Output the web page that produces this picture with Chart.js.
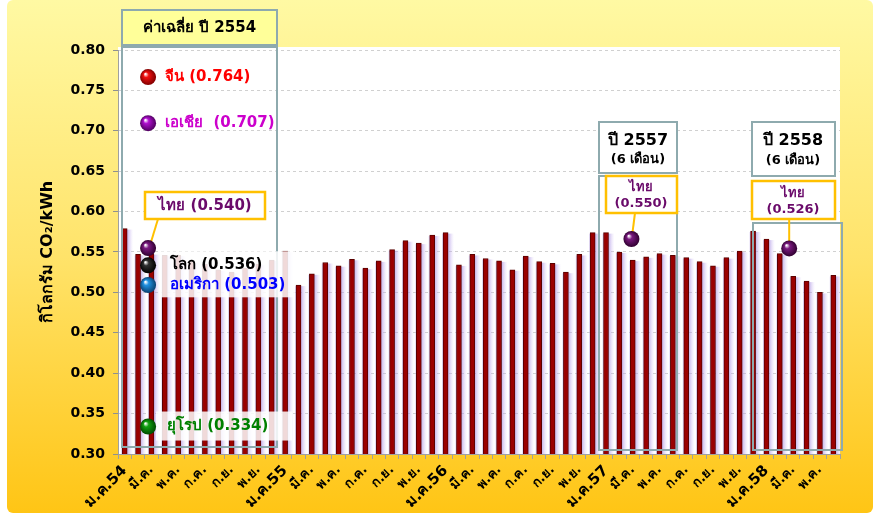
<!DOCTYPE html>
<html>
<head>
<meta charset="utf-8">
<script src="https://cdn.jsdelivr.net/npm/chart.js@4.4.0/dist/chart.umd.min.js"></script>
<style>
html,body{margin:0;padding:0;background:#fff;}
#wrap{width:880px;height:524px;}
</style>
</head>
<body>
<div id="wrap"><canvas id="grafico" width="880" height="524"></canvas></div>
<script>
var meses = ['ม.ค.','ก.พ.','มี.ค.','เม.ย.','พ.ค.','มิ.ย.','ก.ค.','ส.ค.','ก.ย.','ต.ค.','พ.ย.','ธ.ค.'];
var anios = ['54','55','56','57','58'];
var mesesPorAnio = [12,12,12,12,6];

// kg CO2/kWh por mes, ene 2554 - jun 2558
var valores = [
  0.579,0.547,0.548,0.546,0.546,0.538,0.535,0.528,0.525,0.530,0.535,0.540,
  0.551,0.509,0.523,0.537,0.533,0.541,0.530,0.539,0.553,0.564,0.561,0.571,
  0.574,0.534,0.547,0.542,0.539,0.528,0.545,0.538,0.536,0.525,0.547,0.574,
  0.574,0.550,0.540,0.544,0.548,0.546,0.543,0.538,0.533,0.543,0.551,0.576,
  0.566,0.548,0.520,0.514,0.500,0.521
];
var ticksY = [0.30,0.35,0.40,0.45,0.50,0.55,0.60,0.65,0.70,0.75,0.80];

// promedios 2554
var promNombres = ['จีน','เอเชีย ','ไทย','โลก','อเมริกา','ยุโรป'];
var promValores = [0.764,0.707,0.540,0.536,0.503,0.334];

// tailandia 2557 / 2558 (6 meses)
var anioNombres = ['ปี 2557','ปี 2558'];
var thaiValores = [0.550,0.526];

var etiquetas = [];
for (var a = 0; a < anios.length; a++) {
  for (var m = 0; m < mesesPorAnio[a]; m++) {
    etiquetas.push(m == 0 ? meses[m] + anios[a] : meses[m]);
  }
}

var FUENTE = "Tahoma, 'DejaVu Sans', 'Noto Sans', sans-serif";
var BORDE = '#8eaaae';

function esfera(ctx, x, y, r, c1, c2) {
  var g = ctx.createRadialGradient(x - r*0.35, y - r*0.4, r*0.05, x, y, r);
  g.addColorStop(0, 'rgba(255,255,255,0.95)');
  g.addColorStop(0.3, c1);
  g.addColorStop(1, c2);
  ctx.beginPath();
  ctx.arc(x, y, r, 0, Math.PI*2);
  ctx.fillStyle = g;
  ctx.fill();
}

function caja(ctx, x, y, w, h, relleno, borde, ancho) {
  if (relleno) { ctx.fillStyle = relleno; ctx.fillRect(x, y, w, h); }
  if (borde) { ctx.strokeStyle = borde; ctx.lineWidth = ancho || 2; ctx.strokeRect(x, y, w, h); }
}

function texto(ctx, s, x, y, color, size, align) {
  ctx.fillStyle = color;
  ctx.font = 'bold ' + size + 'px ' + FUENTE;
  ctx.textAlign = align || 'center';
  ctx.textBaseline = 'middle';
  ctx.fillText(s, x, y);
}

function linea(ctx, x1, y1, x2, y2) {
  ctx.strokeStyle = '#ffc000';
  ctx.lineWidth = 2;
  ctx.beginPath(); ctx.moveTo(x1, y1); ctx.lineTo(x2, y2); ctx.stroke();
}

var anotaciones = {
  id: 'anotaciones',
  beforeDraw: function(chart) {
    var ctx = chart.ctx, ca = chart.chartArea;
    ctx.save();
    ctx.fillStyle = '#fff';
    ctx.fillRect(0, 0, chart.width, chart.height);
    var g = ctx.createLinearGradient(0, 0, 0, 513);
    g.addColorStop(0, '#fff9a3');
    g.addColorStop(0.5, '#ffe36a');
    g.addColorStop(1, '#ffc515');
    ctx.fillStyle = g;
    ctx.beginPath();
    ctx.roundRect(7, 0, 866, 513, 6);
    ctx.fill();
    ctx.fillStyle = '#fff';
    ctx.fillRect(ca.left, ca.top - 3, ca.right - ca.left, ca.bottom - ca.top + 3);
    ctx.restore();
  },
  beforeDatasetsDraw: function(chart) {
    // sombra lila a la derecha de cada barra
    var ctx = chart.ctx, ca = chart.chartArea;
    var meta = chart.getDatasetMeta(0);
    ctx.save();
    meta.data.forEach(function(el) {
      var x0 = el.x - el.width/2 - 1, x1 = el.x + el.width/2 + 6;
      var fondo = Math.min(el.base, ca.bottom);
      var g = ctx.createLinearGradient(x0, 0, x1, 0);
      g.addColorStop(0, 'rgba(190,170,235,0.5)');
      g.addColorStop(0.55, 'rgba(170,145,225,0.6)');
      g.addColorStop(1, 'rgba(220,205,250,0)');
      ctx.fillStyle = g;
      ctx.fillRect(x0, el.y + 1, x1 - x0, fondo - el.y - 1);
    });
    ctx.restore();
  },
  afterDatasetsDraw: function(chart) {
    var ctx = chart.ctx;
    ctx.save();
    var xs = chart.scales.x, ys = chart.scales.y;

    // panel 2554
    caja(ctx, 122, 10, 155, 35, '#ffff99', BORDE, 2);
    texto(ctx, 'ค่าเฉลี่ย ปี 2554', 199.5, 28, '#000', 15);
    caja(ctx, 122, 47, 155, 400, null, BORDE, 2);

    var ajuste = [-2, -2, -12, 2, -5, 0];
    var c1 = ['#f01010','#b010d0','#7a1a80','#303030','#2090e0','#10a010'];
    var c2 = ['#800000','#500060','#300030','#000000','#0a4070','#004a00'];
    var colTexto = ['#ff0000','#cc00cc','#6a0a6a','#000000','#0000ff','#008000'];
    var px = xs.getPixelForValue(1.75);
    var py = [];
    for (var i = 0; i < promValores.length; i++) py.push(ys.getPixelForValue(promValores[i]) + ajuste[i]);

    ctx.fillStyle = 'rgba(255,255,255,0.85)';
    ctx.fillRect(160, py[3] - 14, 135, 46);
    ctx.fillRect(156, py[5] - 15, 136, 29);

    caja(ctx, 145, 192, 120, 27, '#fff', '#ffc000', 2.5);
    texto(ctx, promNombres[2] + ' (' + promValores[2].toFixed(3) + ')', 205, 206, colTexto[2], 15);
    linea(ctx, 158, 219, 151, py[2] - 6);

    for (var i = 0; i < promValores.length; i++) {
      esfera(ctx, px, py[i], 8, c1[i], c2[i]);
      if (i == 2) continue;
      var tx = (i == 3 || i == 4) ? 170 : (i == 5 ? 167 : 165);
      texto(ctx, promNombres[i] + ' (' + promValores[i].toFixed(3) + ')', tx, py[i], colTexto[i], 15, 'left');
    }

    // panel 2557
    caja(ctx, 599, 176, 78, 274, null, BORDE, 2);
    caja(ctx, 599, 122, 78, 51, '#fff', BORDE, 2);
    texto(ctx, anioNombres[0], 638, 141, '#000', 16);
    texto(ctx, '(6 เดือน)', 638, 160, '#000', 13);
    caja(ctx, 606, 176, 71, 37, '#fff', '#ffc000', 2.5);
    texto(ctx, 'ไทย', 641, 188, '#6a0a6a', 13);
    texto(ctx, '(' + thaiValores[0].toFixed(3) + ')', 641, 204, '#6a0a6a', 13);
    var x57 = xs.getPixelForValue(37.9), y57 = ys.getPixelForValue(thaiValores[0]) - 13;
    linea(ctx, 635, 213, x57 + 1, y57 - 6);
    esfera(ctx, x57, y57, 8, c1[2], c2[2]);

    // panel 2558
    caja(ctx, 753, 223, 89, 227, null, BORDE, 2);
    caja(ctx, 752, 122, 83, 54, '#fff', BORDE, 2);
    texto(ctx, anioNombres[1], 793, 141, '#000', 16);
    texto(ctx, '(6 เดือน)', 793, 161, '#000', 13);
    caja(ctx, 752, 181, 83, 38, '#fff', '#ffc000', 2.5);
    texto(ctx, 'ไทย', 793, 194, '#6a0a6a', 13);
    texto(ctx, '(' + thaiValores[1].toFixed(3) + ')', 793, 210, '#6a0a6a', 13);
    var x58 = xs.getPixelForValue(49.7), y58 = ys.getPixelForValue(thaiValores[1]) - 23;
    linea(ctx, x58, 219, x58, y58 - 6);
    esfera(ctx, x58, y58, 8, c1[2], c2[2]);

    ctx.restore();
  }
};

var grafico = new Chart(document.getElementById('grafico'), {
  type: 'bar',
  data: {
    labels: etiquetas,
    datasets: [{
      data: valores,
      backgroundColor: '#9a0000',
      borderColor: '#5a0000',
      borderWidth: 1,
      barThickness: 5
    }]
  },
  options: {
    responsive: false,
    animation: false,
    layout: { padding: { left: 8, right: 40, top: 50, bottom: 0 } },
    plugins: { legend: { display: false }, tooltip: { enabled: false } },
    scales: {
      x: {
        grid: { drawOnChartArea: false, tickLength: 5, tickColor: '#a0a0a0' },
        border: { color: '#a0a0a0' },
        afterFit: function(s) { s.height = 70; },
        ticks: {
          autoSkip: false,
          maxRotation: 45,
          minRotation: 45,
          padding: 3,
          color: '#000',
          font: function(c) {
            return { family: FUENTE, weight: 'bold', size: (c.index % 12 == 0) ? 15 : 13 };
          },
          callback: function(v, i) { return i % 2 == 0 ? etiquetas[i] : ''; }
        }
      },
      y: {
        min: 0.30,
        max: 0.80,
        afterFit: function(s) { s.width = 110; },
        afterBuildTicks: function(s) { s.ticks = ticksY.map(function(v) { return { value: v }; }); },
        grid: { color: '#d0d0d0', tickLength: 5, tickColor: '#909090' },
        border: { color: '#a0a0a0', dash: [3, 3] },
        ticks: {
          padding: 8,
          color: '#000',
          font: { family: FUENTE, weight: 'bold', size: 14 },
          callback: function(v) { return Number(v).toFixed(2); }
        },
        title: {
          display: true,
          text: 'กิโลกรัม CO₂/kWh',
          color: '#000',
          font: { family: FUENTE, weight: 'bold', size: 16 },
          padding: { top: 30, bottom: 0 }
        }
      }
    }
  },
  plugins: [anotaciones]
});
</script>
</body>
</html>
